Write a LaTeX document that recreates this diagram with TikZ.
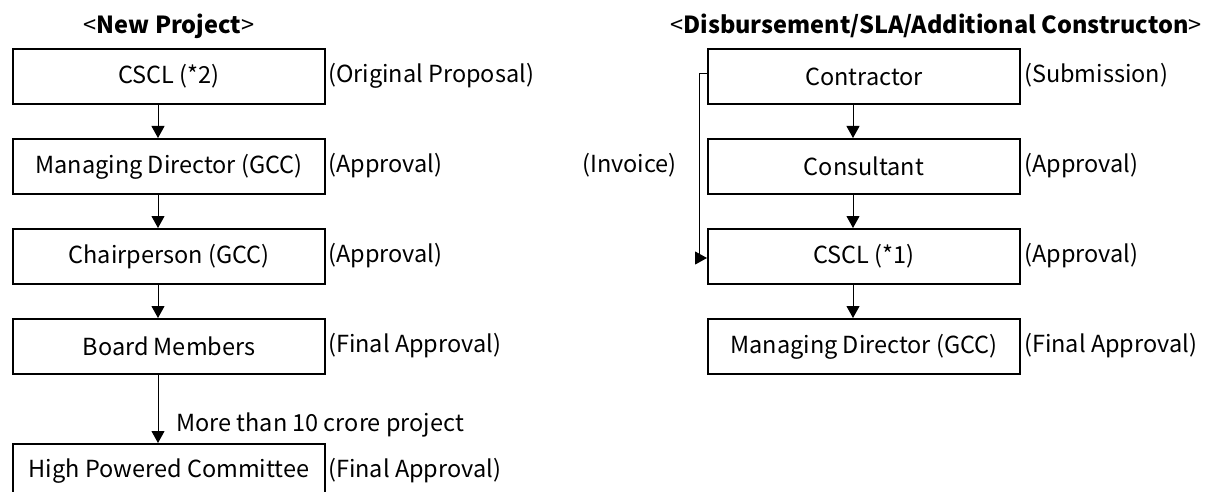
\documentclass[tikz,border=0pt]{standalone}
\usepackage{fontspec}
\setmainfont{Noto Sans CJK JP}
\usetikzlibrary{arrows.meta}
\tikzset{
  box/.style={draw=black, line width=2pt, minimum width=312pt, minimum height=55pt, inner sep=0pt, anchor=north west, font=\fontsize{23.5}{26}\selectfont},
  lbl/.style={anchor=west, inner sep=0pt, font=\fontsize{23.5}{26}\selectfont},
  ttl/.style={inner sep=0pt, font=\fontsize{23.5}{26}\selectfont\bfseries},
  arr/.style={draw=black, line width=1pt, -{Triangle[length=12pt,width=13pt]}}
}
\begin{document}
\begin{tikzpicture}[x=1pt,y=-1pt]
\useasboundingbox (0,0) rectangle (1210,492);
% left column
\node[ttl] (t1) at (169,26) {{\mdseries<}New Project{\mdseries>}};
\node[box] (a1) at (12,48) {CSCL (*2)};
\node[box] (a2) at (12,138) {Managing Director (GCC)};
\node[box] (a3) at (12,228) {Chairperson (GCC)};
\node[box] (a4) at (12,318) {Board Members};
\node[box] (a5) at (12,443) {High Powered Committee};
\node[lbl] (la1) at (328,75.5) {(Original Proposal)};
\node[lbl] (la2) at (328,165.5) {(Approval)};
\node[lbl] (la3) at (328,255.5) {(Approval)};
\node[lbl] (la4) at (328,345.5) {(Final Approval)};
\node[lbl] (la5) at (328,470.5) {(Final Approval)};
\node[lbl] (more) at (176,425) {More than 10 crore project};
\draw[arr] ([xshift=-11pt]a1.south) -- ([xshift=-11pt]a2.north);
\draw[arr] ([xshift=-11pt]a2.south) -- ([xshift=-11pt]a3.north);
\draw[arr] ([xshift=-11pt]a3.south) -- ([xshift=-11pt]a4.north);
\draw[arr] ([xshift=-11pt]a4.south) -- ([xshift=-11pt]a5.north);
% right column
\node[ttl] (t2) at (936,26) {{\mdseries<}Disbursement/SLA/Additional Constructon{\mdseries>}};
\node[box] (b1) at (707,48) {Contractor};
\node[box] (b2) at (707,138) {Consultant};
\node[box] (b3) at (707,228) {CSCL (*1)};
\node[box] (b4) at (707,318) {Managing Director (GCC)};
\node[lbl] (lb1) at (1024,75.5) {(Submission)};
\node[lbl] (lb2) at (1024,165.5) {(Approval)};
\node[lbl] (lb3) at (1024,255.5) {(Approval)};
\node[lbl] (lb4) at (1024,345.5) {(Final Approval)};
\node[lbl, anchor=east] (inv) at (677,165.5) {(Invoice)};
\draw[arr] ([xshift=-11pt]b1.south) -- ([xshift=-11pt]b2.north);
\draw[arr] ([xshift=-11pt]b2.south) -- ([xshift=-11pt]b3.north);
\draw[arr] ([xshift=-11pt]b3.south) -- ([xshift=-11pt]b4.north);
\draw[arr] ([yshift=2.5pt]b1.west) -- ++(-8,0) |- ([yshift=-1.5pt]b3.west);
\end{tikzpicture}
\end{document}
